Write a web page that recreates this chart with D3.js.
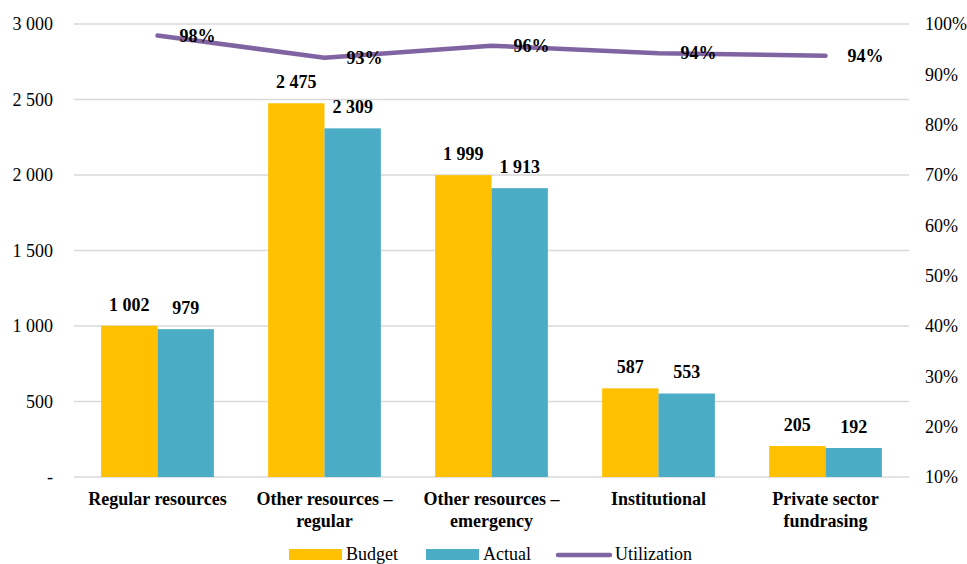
<!DOCTYPE html>
<html>
<head>
<meta charset="utf-8">
<script src="https://cdn.jsdelivr.net/npm/d3@7"></script>
<style>
  html, body { margin: 0; padding: 0; background: #fff; }
  svg, svg text { font-family: 'Times New Roman', 'Liberation Serif', 'DejaVu Serif', serif; }
</style>
</head>
<body>
<svg id="chart" width="967" height="564"></svg>
<script>
// Budget vs. actual by resource type, with utilization rate
const categories = [
  ["Regular resources"],
  ["Other resources \u2013", "regular"],
  ["Other resources \u2013", "emergency"],
  ["Institutional"],
  ["Private sector", "fundrasing"]
];
const budget = [1002, 2475, 1999, 587, 205];
const actual = [979, 2309, 1913, 553, 192];
const utilization = [0.977, 0.933, 0.957, 0.942, 0.937];
const leftTicks = [0, 500, 1000, 1500, 2000, 2500, 3000];
const rightTicks = [0.1, 0.2, 0.3, 0.4, 0.5, 0.6, 0.7, 0.8, 0.9, 1.0];
const seriesNames = ["Budget", "Actual", "Utilization"];
const colors = { Budget: "#FFC000", Actual: "#4BACC6", Utilization: "#8064A2" };

const FONT = "'Times New Roman', 'Liberation Serif', serif";
const svg = d3.select("#chart");
const plot = { left: 74, right: 909, top: 24, bottom: 477 };

const keys = categories.map((c, i) => i);
const x0 = d3.scaleBand().domain(keys).range([plot.left, plot.right]).padding(0);
const bw = x0.bandwidth();
const x1 = d3.scaleBand().domain(["Budget", "Actual"]).range([bw * 0.1625, bw * 0.8375]).padding(0);
const y = d3.scaleLinear().domain([0, 3000]).range([plot.bottom, plot.top]);
const y2 = d3.scaleLinear().domain([0.1, 1.0]).range([plot.bottom, plot.top]);

const fmtNum = v => v === 0 ? "-" : d3.format(",")(v).replace(/,/g, "\u00a0");
const fmtPct = d3.format(".0%");

// Gridlines
svg.append("g")
  .selectAll("line")
  .data(leftTicks)
  .join("line")
  .attr("x1", plot.left).attr("x2", plot.right)
  .attr("y1", d => y(d)).attr("y2", d => y(d))
  .attr("stroke", "#d9d9d9").attr("stroke-width", 1.5);

// Left axis
const leftAxis = svg.append("g")
  .attr("transform", `translate(${plot.left - 21},0)`)
  .call(d3.axisLeft(y).tickValues(leftTicks).tickFormat(fmtNum).tickSize(0).tickPadding(0));
leftAxis.attr("font-family", FONT).attr("font-size", 18);
leftAxis.select(".domain").remove();
leftAxis.selectAll("text").attr("fill", "#000");

// Right axis
const rightAxis = svg.append("g")
  .attr("transform", `translate(${plot.right + 16},0)`)
  .call(d3.axisRight(y2).tickValues(rightTicks).tickFormat(fmtPct).tickSize(0).tickPadding(0));
rightAxis.attr("font-family", FONT).attr("font-size", 18);
rightAxis.select(".domain").remove();
rightAxis.selectAll("text").attr("fill", "#000");

// Bars
const rows = keys.map(i => ({ i, vals: [
  { key: "Budget", v: budget[i] },
  { key: "Actual", v: actual[i] }
]}));

const groups = svg.append("g").selectAll("g")
  .data(rows).join("g")
  .attr("transform", d => `translate(${x0(d.i)},0)`);

groups.selectAll("rect")
  .data(d => d.vals).join("rect")
  .attr("x", d => x1(d.key))
  .attr("width", x1.bandwidth())
  .attr("y", d => y(d.v))
  .attr("height", d => y(0) - y(d.v))
  .attr("fill", d => colors[d.key]);

groups.selectAll("text")
  .data(d => d.vals).join("text")
  .attr("x", d => x1(d.key) + x1.bandwidth() / 2)
  .attr("y", d => y(d.v) - 15)
  .attr("text-anchor", "middle")
  .attr("font-size", 18).attr("font-weight", "bold")
  .text(d => fmtNum(d.v));

// Utilization line
const cx = i => x0(i) + bw / 2;
const line = d3.line().x((d, i) => cx(i)).y(d => y2(d));
svg.append("path")
  .datum(utilization)
  .attr("d", line)
  .attr("fill", "none")
  .attr("stroke", colors.Utilization)
  .attr("stroke-width", 4.5)
  .attr("stroke-linecap", "round")
  .attr("stroke-linejoin", "round");

svg.append("g").selectAll("text")
  .data(utilization).join("text")
  .attr("x", (d, i) => cx(i) + 22)
  .attr("y", d => y2(d) + 2)
  .attr("dominant-baseline", "middle")
  .attr("font-size", 18).attr("font-weight", "bold")
  .text(d => fmtPct(d));

// Category labels
const cat = svg.append("g").selectAll("text")
  .data(categories).join("text")
  .attr("x", (d, i) => cx(i))
  .attr("y", 505)
  .attr("text-anchor", "middle")
  .attr("font-size", 18).attr("font-weight", "bold");
cat.selectAll("tspan")
  .data(d => d).join("tspan")
  .attr("x", function() { return d3.select(this.parentNode).attr("x"); })
  .attr("dy", (d, j) => j === 0 ? 0 : 22)
  .text(d => d);

// Legend
const legend = svg.append("g");
const legendItems = [
  { name: seriesNames[0], x: 289, type: "rect" },
  { name: seriesNames[1], x: 426, type: "rect" },
  { name: seriesNames[2], x: 558, type: "line" }
];
legendItems.forEach(it => {
  if (it.type === "rect") {
    legend.append("rect")
      .attr("x", it.x).attr("y", 549).attr("width", 53).attr("height", 11)
      .attr("fill", colors[it.name]);
  } else {
    legend.append("line")
      .attr("x1", it.x).attr("x2", it.x + 52).attr("y1", 555).attr("y2", 555)
      .attr("stroke", colors[it.name]).attr("stroke-width", 4.5)
      .attr("stroke-linecap", "round");
  }
  legend.append("text")
    .attr("x", it.x + 57).attr("y", 560)
    .attr("font-size", 18)
    .text(it.name);
});
</script>
</body>
</html>
